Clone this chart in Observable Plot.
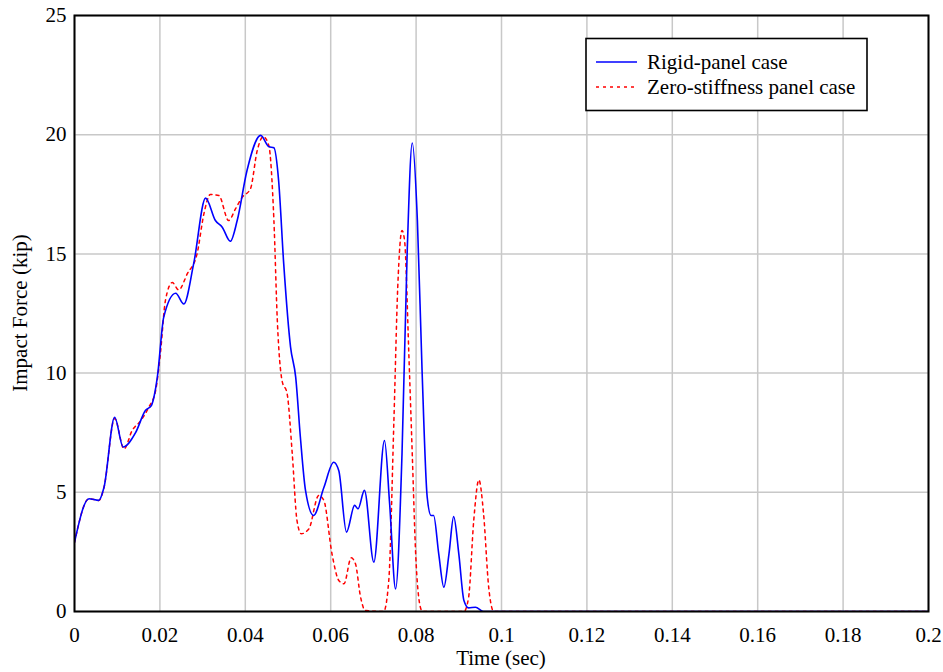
<!DOCTYPE html>
<html>
<head>
<meta charset="utf-8">
<script src="https://cdn.jsdelivr.net/npm/d3@7"></script>
<script src="https://cdn.jsdelivr.net/npm/@observablehq/plot@0.6"></script>
<style>
  html, body { margin: 0; padding: 0; background: #fff; }
  #chart { position: relative; width: 943px; height: 672px; }
</style>
</head>
<body>
<div id="chart"></div>
<script>
// Rigid-panel case
const timeRigid = [0, 0.0034, 0.0057, 0.0069, 0.0094, 0.0114, 0.0143, 0.0166, 0.018, 0.0194, 0.0209, 0.0237, 0.0256, 0.0279, 0.0307, 0.033, 0.0346, 0.0365, 0.0381, 0.0404, 0.0436, 0.0455, 0.0467, 0.0478, 0.049, 0.0506, 0.0518, 0.0529, 0.0541, 0.056, 0.0584, 0.0607, 0.0619, 0.0637, 0.0656, 0.0664, 0.0679, 0.0701, 0.0726, 0.0738, 0.0752, 0.0767, 0.0779, 0.0791, 0.0803, 0.0814, 0.0826, 0.0835, 0.0841, 0.0853, 0.0865, 0.0877, 0.0888, 0.09, 0.0912, 0.0923, 0.0939, 0.0958, 0.2];
const forceRigid = [2.9, 4.73, 4.66, 5.2, 8.15, 6.9, 7.5, 8.43, 8.64, 9.83, 12.35, 13.35, 12.9, 14.58, 17.34, 16.4, 16.12, 15.53, 16.4, 18.5, 19.97, 19.5, 19.45, 18.08, 14.58, 11.09, 9.83, 7.31, 5.08, 4.03, 5.2, 6.26, 5.9, 3.33, 4.45, 4.31, 5.08, 2.07, 7.17, 4.52, 0.95, 6.61, 15.0, 19.65, 16.4, 10.1, 4.8, 4.03, 4.03, 2.42, 1.02, 2.42, 3.98, 2.42, 0.46, 0.15, 0.18, 0.0, 0];

// Zero-stiffness panel case
const timeZero = [0, 0.0034, 0.0057, 0.0069, 0.0094, 0.0116, 0.0135, 0.0155, 0.0174, 0.019, 0.0201, 0.0213, 0.0229, 0.0244, 0.0264, 0.0287, 0.0303, 0.0318, 0.0338, 0.0361, 0.0377, 0.0393, 0.0412, 0.0428, 0.0442, 0.0455, 0.0467, 0.0475, 0.0486, 0.0498, 0.051, 0.0521, 0.0531, 0.0549, 0.0572, 0.0584, 0.0603, 0.0619, 0.0631, 0.0648, 0.0658, 0.067, 0.0681, 0.0724, 0.0736, 0.0748, 0.0757, 0.0767, 0.0773, 0.0783, 0.0791, 0.0799, 0.081, 0.0815, 0.0912, 0.0923, 0.0935, 0.0947, 0.0958, 0.097, 0.0982, 0.2];
const forceZero = [2.9, 4.73, 4.66, 5.2, 8.1, 6.82, 7.59, 8.0, 8.57, 9.27, 10.8, 13.05, 13.8, 13.49, 14.16, 15.0, 16.68, 17.49, 17.45, 16.4, 16.89, 17.38, 17.73, 19.34, 19.92, 19.55, 16.4, 12.2, 9.69, 9.13, 6.61, 3.82, 3.26, 3.47, 4.87, 4.66, 2.42, 1.3, 1.16, 2.25, 2.0, 0.6, 0.04, 0, 1.3, 8.0, 13.6, 15.98, 15.56, 10.8, 6.61, 2.42, 0.18, 0, 0, 0.6, 3.82, 5.52, 4.1, 1.02, 0, 0];

const xTicks = [0, 0.02, 0.04, 0.06, 0.08, 0.1, 0.12, 0.14, 0.16, 0.18, 0.2];
const yTicks = [0, 5, 10, 15, 20, 25];
const seriesNames = ["Rigid-panel case", "Zero-stiffness panel case"];

const rigid = timeRigid.map((t, i) => ({t, f: forceRigid[i]}));
const zero = timeZero.map((t, i) => ({t, f: forceZero[i]}));

const fmt = d => String(+d.toFixed(2));
const FS = 21;

const plot = Plot.plot({
  width: 943,
  height: 672,
  marginLeft: 74,
  marginRight: 15,
  marginTop: 15,
  marginBottom: 61,
  style: {fontFamily: "'Liberation Serif', 'Times New Roman', serif", fontSize: FS + "px", background: "#fff", color: "#000"},
  x: {domain: [0, 0.2], ticks: xTicks, tickFormat: fmt, label: null},
  y: {domain: [0, 25], ticks: yTicks, label: null},
  marks: [
    Plot.gridX(xTicks, {stroke: "#c8c8c8", strokeOpacity: 1, strokeWidth: 1.5}),
    Plot.gridY(yTicks, {stroke: "#c8c8c8", strokeOpacity: 1, strokeWidth: 1.5}),
    Plot.line(zero, {x: "t", y: "f", stroke: "#ff0000", strokeWidth: 1.5, strokeDasharray: "3,4", curve: "monotone-x", clip: true}),
    Plot.line(rigid, {x: "t", y: "f", stroke: "#0000ff", strokeWidth: 1.6, curve: "monotone-x", clip: true}),
    Plot.axisX(xTicks, {tickSize: 0, tickPadding: 16, tickFormat: fmt, fontSize: FS, label: null}),
    Plot.axisY(yTicks, {tickSize: 0, tickPadding: 8, fontSize: FS, label: null}),
    Plot.frame({stroke: "#000", strokeWidth: 2})
  ]
});

const svg = d3.select(plot);
// axis titles
svg.append("text")
  .attr("x", 74 + 854 / 2).attr("y", 665)
  .attr("text-anchor", "middle")
  .attr("font-size", FS)
  .attr("fill", "#000")
  .text("Time (sec)");
svg.append("text")
  .attr("transform", `translate(27, ${(15 + 611) / 2}) rotate(-90)`)
  .attr("text-anchor", "middle")
  .attr("font-size", FS)
  .attr("fill", "#000")
  .text("Impact Force (kip)");

// legend
const lg = svg.append("g").attr("text-anchor", "start");
lg.append("rect")
  .attr("x", 586).attr("y", 38.5).attr("width", 281).attr("height", 72)
  .attr("fill", "#fff").attr("stroke", "#000").attr("stroke-width", 1.6);
const legendStyles = [
  {stroke: "#0000ff", dash: null, y: 62},
  {stroke: "#ff0000", dash: "3,4", y: 87}
];
seriesNames.forEach((name, i) => {
  const s = legendStyles[i];
  const line = lg.append("line")
    .attr("x1", 596).attr("x2", 637).attr("y1", s.y).attr("y2", s.y)
    .attr("stroke", s.stroke).attr("stroke-width", 1.5);
  if (s.dash) line.attr("stroke-dasharray", s.dash);
  lg.append("text")
    .attr("x", 647).attr("y", s.y + 7)
    .attr("text-anchor", "start")
    .attr("font-size", FS).attr("fill", "#000")
    .text(name);
});

document.getElementById("chart").appendChild(plot);
</script>
</body>
</html>
